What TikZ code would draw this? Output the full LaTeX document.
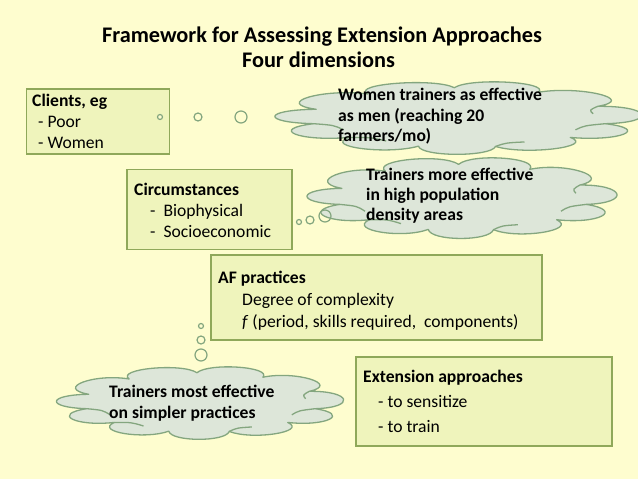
\documentclass[tikz,border=0pt]{standalone}
\usepackage{fontspec}
\setmainfont{Carlito}
\definecolor{bg}{HTML}{FEFDCF}
\definecolor{boxfill}{HTML}{EFF4BC}
\definecolor{boxline}{HTML}{8FA85A}
\definecolor{cloudfill}{HTML}{DDE6D9}
\definecolor{cloudline}{HTML}{84A67F}
\tikzset{
  dimbox/.style={draw=boxline, fill=boxfill, line width=1.6pt, inner sep=0pt},
  bubble/.style={draw=cloudline, fill=bg, line width=1.2pt, circle, inner sep=0pt},
  txt/.style={anchor=base west, inner sep=0pt, font=\fontsize{17.6}{20}\selectfont},
  btxt/.style={txt, font=\fontsize{17.6}{20}\selectfont\bfseries},
  title/.style={anchor=base, inner sep=0pt, font=\fontsize{22.3}{26}\selectfont\bfseries},
  cloudline style/.style={draw=cloudline, line width=1.3pt, line join=round},
  thoughtcloud/.pic={
    \filldraw[cloudline style, fill=cloudfill] (12:0.84)
      \foreach \a/\b in {12/42,42/76,76/106,106/138,138/168,168/196,196/232,232/268,268/302,302/338,338/372}
        { .. controls ({\a+5}:1.13) and ({\b-5}:1.13) .. (\b:0.84) } -- cycle;
    \draw[cloudline style] (168:0.84) .. controls (163:0.74) .. (152:0.74);
    \draw[cloudline style] (138:0.84) .. controls (132:0.75) .. (122:0.78);
    \draw[cloudline style] (12:0.84) .. controls (18:0.74) .. (28:0.74);
    \draw[cloudline style] (338:0.84) .. controls (344:0.76) .. (352:0.76);
    \draw[cloudline style] (76:0.84) .. controls (70:0.76) .. (62:0.78);
  }
}
\begin{document}
\begin{tikzpicture}[x=1pt,y=-1pt]
\fill[bg] (0,0) rectangle (638,479);
\useasboundingbox (0,0) rectangle (638,479);
% title
\node[title] (t1) at (322,42) {Framework for Assessing Extension Approaches};
\node[title] (t2) at (318.5,67) {Four dimensions};
% Clients box
\node[dimbox, minimum width=143pt, minimum height=65pt] (clients) at (98,121.5) {};
\node[btxt] (c1) at (32,106) {Clients, eg};
\node[txt] (c2) at (38,127) {- Poor};
\node[txt] (c3) at (38,148) {- Women};
% bubbles 1
\node[bubble, minimum size=5pt] (b11) at (160,117) {};
\node[bubble, minimum size=8pt] (b12) at (198,117) {};
\node[bubble, minimum size=12pt] (b13) at (241,117) {};
% cloud 1
\coordinate (cl1) at (459.5,117.5);
\pic[xscale=177.5, yscale=35.5] at (cl1) {thoughtcloud};
\node[btxt] (w1) at (338,100) {Women trainers as effective};
\node[btxt] (w2) at (338,121) {as men (reaching 20};
\node[btxt] (w3) at (338,141) {farmers/mo)};
% Circumstances box
\node[dimbox, minimum width=165pt, minimum height=80pt] (circ) at (209.5,209.5) {};
\node[btxt] (ci1) at (134,195) {Circumstances};
\node[txt] (ci2) at (150,216) {-\ \ Biophysical};
\node[txt] (ci3) at (150,237) {-\ \ Socioeconomic};
% bubbles 2
\node[bubble, minimum size=5pt] (b21) at (299,222) {};
\node[bubble, minimum size=8pt] (b22) at (310,220) {};
% cloud 2
\coordinate (cl2) at (463,197.5);
\pic[xscale=150, yscale=39.5] at (cl2) {thoughtcloud};
\node[bubble, minimum size=12pt, fill=none] (b23) at (325,216) {};
\node[btxt] (p1) at (366,180) {Trainers more effective};
\node[btxt] (p2) at (366,200) {in high population};
\node[btxt] (p3) at (366,220) {density areas};
% AF practices box
\node[dimbox, minimum width=331pt, minimum height=85pt] (af) at (376.5,297.5) {};
\node[btxt] (a1) at (218,283) {AF practices};
\node[txt] (a2) at (242,305) {Degree of complexity};
\node[txt] (a3) at (242,327) {\textit{f} (period, skills required,\ \ components)};
% bubbles 3
\node[bubble, minimum size=5pt] (b31) at (201,326) {};
\node[bubble, minimum size=8pt] (b32) at (201,340) {};
\node[bubble, minimum size=12pt] (b33) at (201,355) {};
% cloud 3
\coordinate (cl3) at (201,402.5);
\pic[xscale=139, yscale=35.5] at (cl3) {thoughtcloud};
\node[btxt] (s1) at (109,397) {Trainers most effective};
\node[btxt] (s2) at (109,418) {on simpler practices};
% Extension approaches box
\node[dimbox, minimum width=256pt, minimum height=89pt] (ext) at (484,401.5) {};
\node[btxt] (e1) at (363,382) {Extension approaches};
\node[txt] (e2) at (378,407) {- to sensitize};
\node[txt] (e3) at (378,432) {- to train};
\end{tikzpicture}
\end{document}
